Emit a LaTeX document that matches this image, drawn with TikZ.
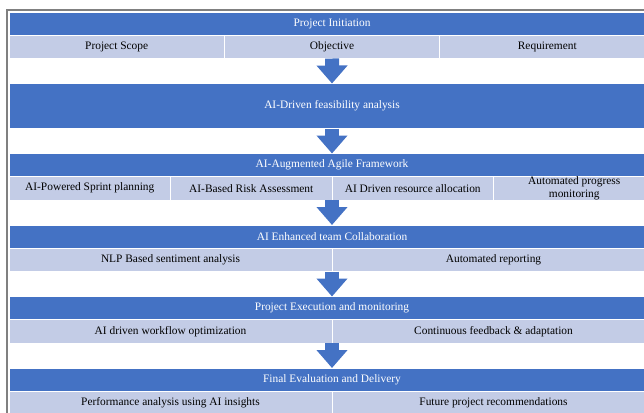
\documentclass[tikz,border=0pt]{standalone}
\usepackage{fontspec}
\setmainfont{Liberation Serif}
\usetikzlibrary{positioning, arrows.meta}
\definecolor{barblue}{HTML}{4472C4}
\definecolor{cellblue}{HTML}{C3CCE6}
\definecolor{framegray}{HTML}{808080}

\begin{document}
\begin{tikzpicture}[x=1pt, y=-1pt,
node distance = 0mm and 0mm,% rows and cells sit edge to edge
   bar/.style = {fill=barblue, draw=white, line width=0.6pt, text=white,
                 minimum width=646pt, minimum height=23pt, inner sep=0pt, outer sep=0pt},
   cell/.style = {fill=cellblue, draw=white, line width=0.6pt, minimum height=23.5pt,
                  inner sep=0pt, outer sep=0pt, align=center},
   flow/.style = {line width=14pt, barblue, -{Triangle[length=18pt, width=30pt]}},
   font=\fontsize{11.4}{12.5}\selectfont
                        ]
\clip (0,0) rectangle (644,412);
\draw[framegray, line width=1.5pt] (7,10) rectangle (700,460);
% stage 1
\node (b1) [bar, anchor=north] at (332,12) {Project Initiation};
\node (scope) [cell, minimum width=215.33pt, below right=of b1.south west] {Project Scope};
\node (obj) [cell, minimum width=215.33pt, right=of scope] {Objective};
\node (req) [cell, minimum width=215.33pt, right=of obj] {Requirement};
% stage 2
\node (b2) [bar, minimum height=45pt, below=48.5pt of b1] {AI-Driven feasibility analysis};
\draw [flow] (obj.south) -- (b2.north);
% stage 3
\node (b3) [bar, below=25pt of b2] {AI-Augmented Agile Framework};
\draw [flow] (b2.south) -- (b3.north);
\node (sprint) [cell, minimum width=161.5pt, below right=of b3.south west] {AI-Powered Sprint planning};
\node (risk) [cell, minimum width=161.5pt, right=of sprint] {AI-Based Risk Assessment};
\node (res) [cell, minimum width=161.5pt, right=of risk] {AI Driven resource allocation};
\node (prog) [cell, minimum width=161.5pt, right=of res] {Automated progress\\monitoring};
% stage 4
\node (b4) [bar, below=48.5pt of b3] {AI Enhanced team Collaboration};
\draw [flow] (risk.south east) -- (b4.north);
\node (nlp) [cell, minimum width=323pt, below right=of b4.south west] {NLP Based sentiment analysis};
\node (rep) [cell, minimum width=323pt, right=of nlp] {Automated reporting};
% stage 5
\node (b5) [bar, below=48.5pt of b4] {Project Execution and monitoring};
\draw [flow] (nlp.south east) -- (b5.north);
\node (wf) [cell, minimum width=323pt, below right=of b5.south west] {AI driven workflow optimization};
\node (fb) [cell, minimum width=323pt, right=of wf] {Continuous feedback \& adaptation};
% stage 6
\node (b6) [bar, below=48.5pt of b5] {Final Evaluation and Delivery};
\draw [flow] (wf.south east) -- (b6.north);
\node (perf) [cell, minimum width=323pt, below right=of b6.south west] {Performance analysis using AI insights};
\node (fut) [cell, minimum width=323pt, right=of perf] {Future project recommendations};
\end{tikzpicture}
\end{document}
